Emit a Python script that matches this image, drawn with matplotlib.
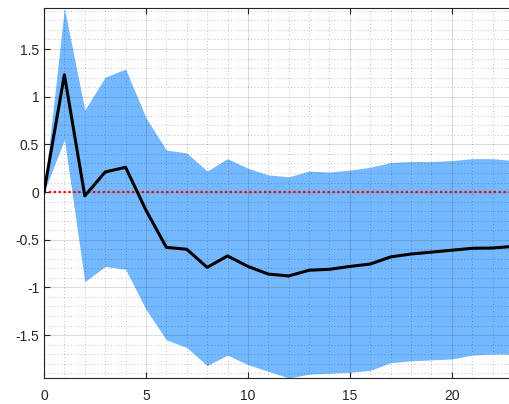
import numpy as np
import matplotlib.pyplot as plt
from matplotlib.ticker import MultipleLocator, FuncFormatter

# horizon and impulse response values
horizon = list(range(24))
response = [0, 1.23, -0.04, 0.21, 0.26, -0.19, -0.58, -0.60, -0.79, -0.67,
            -0.78, -0.86, -0.88, -0.82, -0.81, -0.78, -0.755, -0.68, -0.65,
            -0.63, -0.61, -0.59, -0.587, -0.57]
upper = [0, 1.93, 0.86, 1.205, 1.29, 0.78, 0.44, 0.41, 0.22, 0.35,
         0.25, 0.18, 0.16, 0.22, 0.21, 0.23, 0.26, 0.31, 0.32,
         0.32, 0.33, 0.35, 0.35, 0.33]
lower = [0, 0.55, -0.94, -0.78, -0.81, -1.23, -1.55, -1.63, -1.82, -1.71,
         -1.81, -1.88, -1.95, -1.91, -1.90, -1.89, -1.87, -1.79, -1.77,
         -1.76, -1.75, -1.71, -1.70, -1.70]
xticks = [0, 5, 10, 15, 20]
yticks = [-1.5, -1, -0.5, 0, 0.5, 1, 1.5]

plt.rcParams['font.family'] = ['Liberation Sans', 'DejaVu Sans']

fig = plt.figure(figsize=(5.09, 4.04), dpi=100)
ax = fig.add_axes([44 / 509, 26 / 404, (513 - 44) / 509, (378 - 8) / 404])

ax.fill_between(horizon, lower, upper, color='#74b9ff', linewidth=0, zorder=1)
ax.plot(horizon, response, color='black', linewidth=2.2, zorder=4)
ax.axhline(0, color='#ff0000', linestyle=(0, (1, 1.2)), linewidth=1.6, zorder=3)

ax.set_xlim(0, 23)
ax.set_ylim(-1.95, 1.93)
ax.set_xticks(xticks)
ax.set_yticks(yticks)
ax.xaxis.set_minor_locator(MultipleLocator(1))
ax.yaxis.set_minor_locator(MultipleLocator(0.1))
fmt = FuncFormatter(lambda v, p: ('%g' % v).replace('\u2212', '-'))
ax.xaxis.set_major_formatter(fmt)
ax.yaxis.set_major_formatter(fmt)

ax.set_axisbelow(False)
ax.grid(which='major', color='#000000', alpha=0.13, linewidth=0.8)
ax.grid(which='minor', color='#000000', alpha=0.33, linestyle=(0, (1, 3)), linewidth=0.6)

ax.tick_params(which='both', direction='in', top=True, right=False,
               labelsize=10, labelcolor='#262626', color='#262626')
ax.tick_params(which='minor', length=0)
ax.tick_params(which='major', length=4, width=0.8)
ax.tick_params(axis='x', which='major', pad=8)
for side in ['left', 'bottom', 'top']:
    ax.spines[side].set_color('#262626')
    ax.spines[side].set_linewidth(0.8)
ax.spines['right'].set_visible(False)

fig.savefig('out.png', dpi=100)
